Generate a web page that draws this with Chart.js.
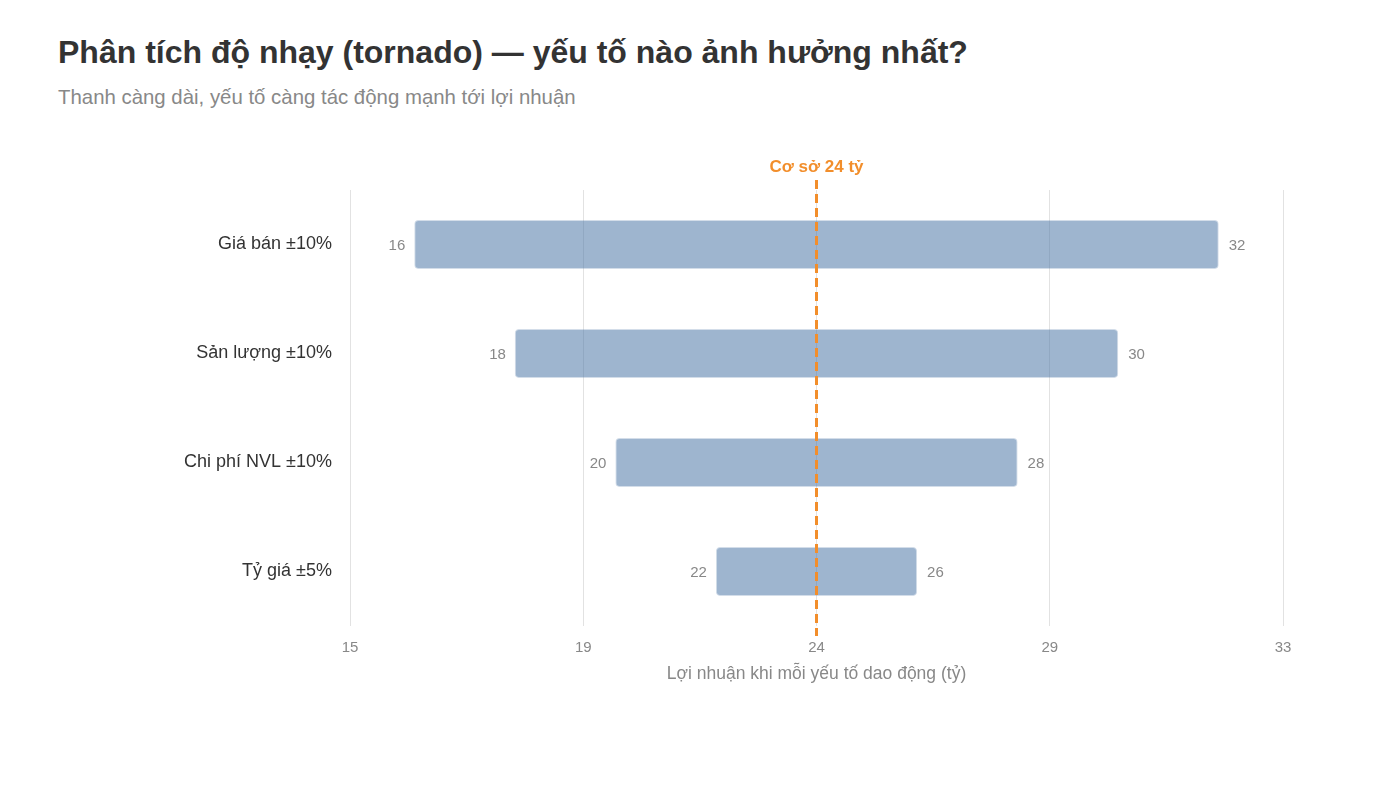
<!DOCTYPE html>
<html>
<head>
    <meta charset="utf-8">
    <title>Phân tích độ nhạy</title>
    <script src="https://cdn.jsdelivr.net/npm/chart.js"></script>
    <style>
        body {
            margin: 0;
            background: white;
            font-family: "Liberation Sans", Arial, Helvetica, sans-serif;
        }
        .header {
            position: absolute;
            left: 58px;
            top: 33px;
        }
        .header h1 {
            margin: 0;
            font-size: 32px;
            line-height: 38px;
            font-weight: bold;
            color: #333;
        }
        .header p {
            margin: 15px 0 0 0;
            font-size: 20.4px;
            color: #888;
        }
        .chart-box {
            position: absolute;
            left: 0;
            top: 130px;
            width: 1400px;
            height: 600px;
        }
    </style>
</head>
<body>
    <div class="header">
        <h1>Phân tích độ nhạy (tornado) — yếu tố nào ảnh hưởng nhất?</h1>
        <p>Thanh càng dài, yếu tố càng tác động mạnh tới lợi nhuận</p>
    </div>
    <div class="chart-box">
        <canvas id="chart"></canvas>
    </div>

    <script>
        // dữ liệu
        const factors = ['Giá bán ±10%', 'Sản lượng ±10%', 'Chi phí NVL ±10%', 'Tỷ giá ±5%'];
        const lowValues = [16.24, 18.18, 20.12, 22.06];
        const highValues = [31.76, 29.82, 27.88, 25.94];
        const baseProfit = 24;
        const baseLabel = 'Cơ sở 24 tỷ';
        const xTickLabels = ['15', '19', '24', '29', '33'];

        Chart.defaults.font.family = '"Liberation Sans", Arial, Helvetica, sans-serif';

        // nhãn giá trị hai đầu thanh
        const endLabels = {
            id: 'endLabels',
            afterDatasetsDraw(chart) {
                const ctx = chart.ctx;
                const meta = chart.getDatasetMeta(0);
                ctx.save();
                ctx.font = '15px "Liberation Sans", Arial, sans-serif';
                ctx.fillStyle = '#888';
                ctx.textBaseline = 'middle';
                meta.data.forEach((bar, i) => {
                    const p = bar.getProps(['x', 'y', 'base'], true);
                    const left = Math.min(p.x, p.base);
                    const right = Math.max(p.x, p.base);
                    ctx.textAlign = 'right';
                    ctx.fillText(Math.round(lowValues[i]), left - 9, p.y + 1);
                    ctx.textAlign = 'left';
                    ctx.fillText(Math.round(highValues[i]), right + 10, p.y + 1);
                });
                ctx.restore();
            }
        };

        // đường cơ sở nét đứt
        const baseLine = {
            id: 'baseLine',
            afterDatasetsDraw(chart) {
                const ctx = chart.ctx;
                const area = chart.chartArea;
                const x = chart.scales.x.getPixelForValue(baseProfit);
                ctx.save();
                ctx.strokeStyle = '#f28e2b';
                ctx.lineWidth = 3;
                ctx.setLineDash([9, 5]);
                ctx.beginPath();
                ctx.moveTo(x, area.top - 10);
                ctx.lineTo(x, area.bottom + 10);
                ctx.stroke();
                ctx.setLineDash([]);
                ctx.fillStyle = '#f28e2b';
                ctx.font = 'bold 17px "Liberation Sans", Arial, sans-serif';
                ctx.textAlign = 'center';
                ctx.textBaseline = 'middle';
                ctx.fillText(baseLabel, x, area.top - 23);
                ctx.restore();
            }
        };

        new Chart(document.getElementById('chart'), {
            type: 'bar',
            data: {
                labels: factors,
                datasets: [{
                    data: factors.map((f, i) => [lowValues[i], highValues[i]]),
                    backgroundColor: 'rgba(78, 121, 167, 0.55)',
                    borderColor: 'rgba(78, 121, 167, 0.25)',
                    borderWidth: 1,
                    borderRadius: 4,
                    borderSkipped: false,
                    barPercentage: 0.45,
                    categoryPercentage: 1
                }]
            },
            options: {
                indexAxis: 'y',
                responsive: true,
                maintainAspectRatio: false,
                animation: false,
                layout: {
                    padding: { top: 60, right: 117, bottom: 45, left: 0 }
                },
                plugins: {
                    legend: { display: false },
                    tooltip: { enabled: false }
                },
                scales: {
                    x: {
                        min: 15,
                        max: 33,
                        ticks: {
                            stepSize: 4.5,
                            color: '#888',
                            font: { size: 15 },
                            padding: 13,
                            callback: (v, i) => xTickLabels[i]
                        },
                        grid: { color: '#e2e2e2', drawTicks: false },
                        border: { display: false },
                        title: {
                            display: true,
                            text: 'Lợi nhuận khi mỗi yếu tố dao động (tỷ)',
                            color: '#888',
                            font: { size: 17.5 },
                            padding: { top: 0, bottom: 0 }
                        },
                        afterFit(scale) { scale.height = 59; }
                    },
                    y: {
                        ticks: {
                            color: '#333',
                            font: { size: 18 },
                            padding: 18
                        },
                        grid: { display: false, drawTicks: false },
                        border: { display: false },
                        afterFit(scale) { scale.width = 350; }
                    }
                }
            },
            plugins: [endLabels, baseLine]
        });
    </script>
</body>
</html>
